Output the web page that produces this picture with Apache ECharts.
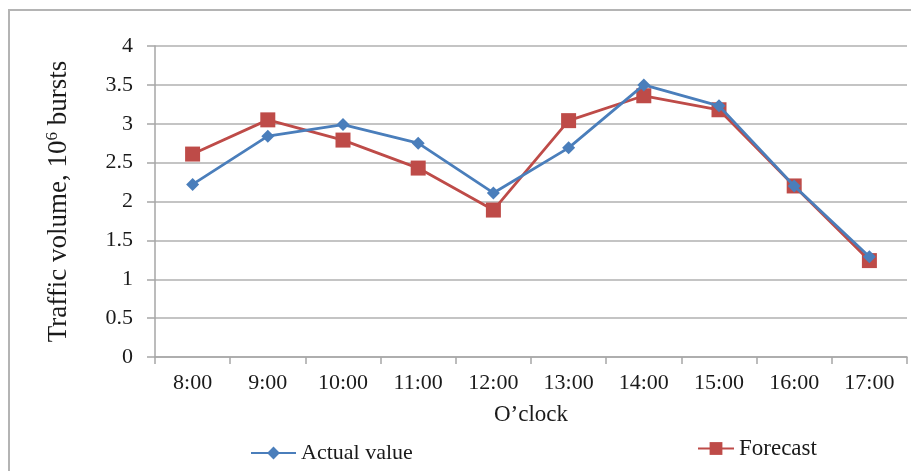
<!DOCTYPE html>
<html>
<head>
<meta charset="utf-8">
<script src="https://cdn.jsdelivr.net/npm/echarts@6/dist/echarts.min.js"></script>
<style>html,body{margin:0;padding:0;background:#fff}#c{width:911px;height:471px}</style>
</head>
<body>
<div id="c"></div>
<script>
const categories = ['8:00','9:00','10:00','11:00','12:00','13:00','14:00','15:00','16:00','17:00'];
const actualValues = [2.22, 2.84, 2.99, 2.75, 2.11, 2.69, 3.50, 3.23, 2.20, 1.29];
const forecastValues = [2.61, 3.05, 2.79, 2.43, 1.89, 3.04, 3.36, 3.18, 2.20, 1.24];
const yTickLabels = {0:'0', 0.5:'0.5', 1:'1', 1.5:'1.5', 2:'2', 2.5:'2.5', 3:'3', 3.5:'3.5', 4:'4'};

const FONT = '"Liberation Serif", "DejaVu Serif", serif';
const chart = echarts.init(document.getElementById('c'), null, {renderer:'canvas'});
chart.setOption({
  animation: false,
  backgroundColor: '#ffffff',
  graphic: [{
    type: 'rect', shape: {x: 9, y: 10, width: 920, height: 480},
    style: {fill: 'none', stroke: '#b4b4b4', lineWidth: 2}, silent: true, z: -1
  }],
  grid: {left: 155, right: 4, top: 46, bottom: 114, containLabel: false},
  xAxis: {
    type: 'category', data: categories, boundaryGap: true,
    name: 'O\u2019clock', nameLocation: 'middle', nameGap: 46,
    nameTextStyle: {fontFamily: FONT, fontSize: 23, color: '#1a1a1a'},
    axisLine: {show: true, lineStyle: {color: '#a6a6a6', width: 1.5}},
    axisTick: {show: true, alignWithLabel: false, length: 7, lineStyle: {color: '#a6a6a6', width: 1.5}},
    axisLabel: {fontFamily: FONT, fontSize: 22, color: '#1a1a1a', margin: 15, interval: 0},
    splitLine: {show: false}
  },
  yAxis: {
    type: 'value', min: 0, max: 4, interval: 0.5,
    name: '{a|Traffic volume, 10}{s|6}{a| bursts}', nameLocation: 'middle', nameGap: 82, nameRotate: 90,
    nameTextStyle: {
      rich: {
        a: {fontFamily: FONT, fontSize: 27, color: '#1a1a1a'},
        s: {fontFamily: FONT, fontSize: 17, color: '#1a1a1a', verticalAlign: 'top', padding: [0,0,12,0]}
      }
    },
    axisLine: {show: true, lineStyle: {color: '#a6a6a6', width: 1.5}},
    axisTick: {show: true, inside: false, length: 8, lineStyle: {color: '#a6a6a6', width: 1.5}},
    axisLabel: {fontFamily: FONT, fontSize: 22, color: '#1a1a1a', margin: 22,
      formatter: v => (yTickLabels[v] !== undefined ? yTickLabels[v] : String(v))},
    splitLine: {show: true, lineStyle: {color: '#c4c4c4', width: 1.8}}
  },
  legend: [
    {data: ['Actual value'], left: 245, top: 437, itemWidth: 45, itemHeight: 16, itemGap: 10,
     textStyle: {fontFamily: FONT, fontSize: 22, color: '#1a1a1a'}},
    {data: ['Forecast'], left: 692, top: 432, itemWidth: 36, itemHeight: 16, itemGap: 10,
     textStyle: {fontFamily: FONT, fontSize: 23, color: '#1a1a1a'}}
  ],
  series: [
    {name: 'Actual value', type: 'line', data: actualValues, symbol: 'diamond', symbolSize: 13,
     lineStyle: {color: '#4a7ebb', width: 2.8}, itemStyle: {color: '#4a7ebb'}, z: 3},
    {name: 'Forecast', type: 'line', data: forecastValues, symbol: 'rect', symbolSize: 15,
     lineStyle: {color: '#be4b48', width: 2.8}, itemStyle: {color: '#be4b48'}, z: 2}
  ]
});
</script>
</body>
</html>
